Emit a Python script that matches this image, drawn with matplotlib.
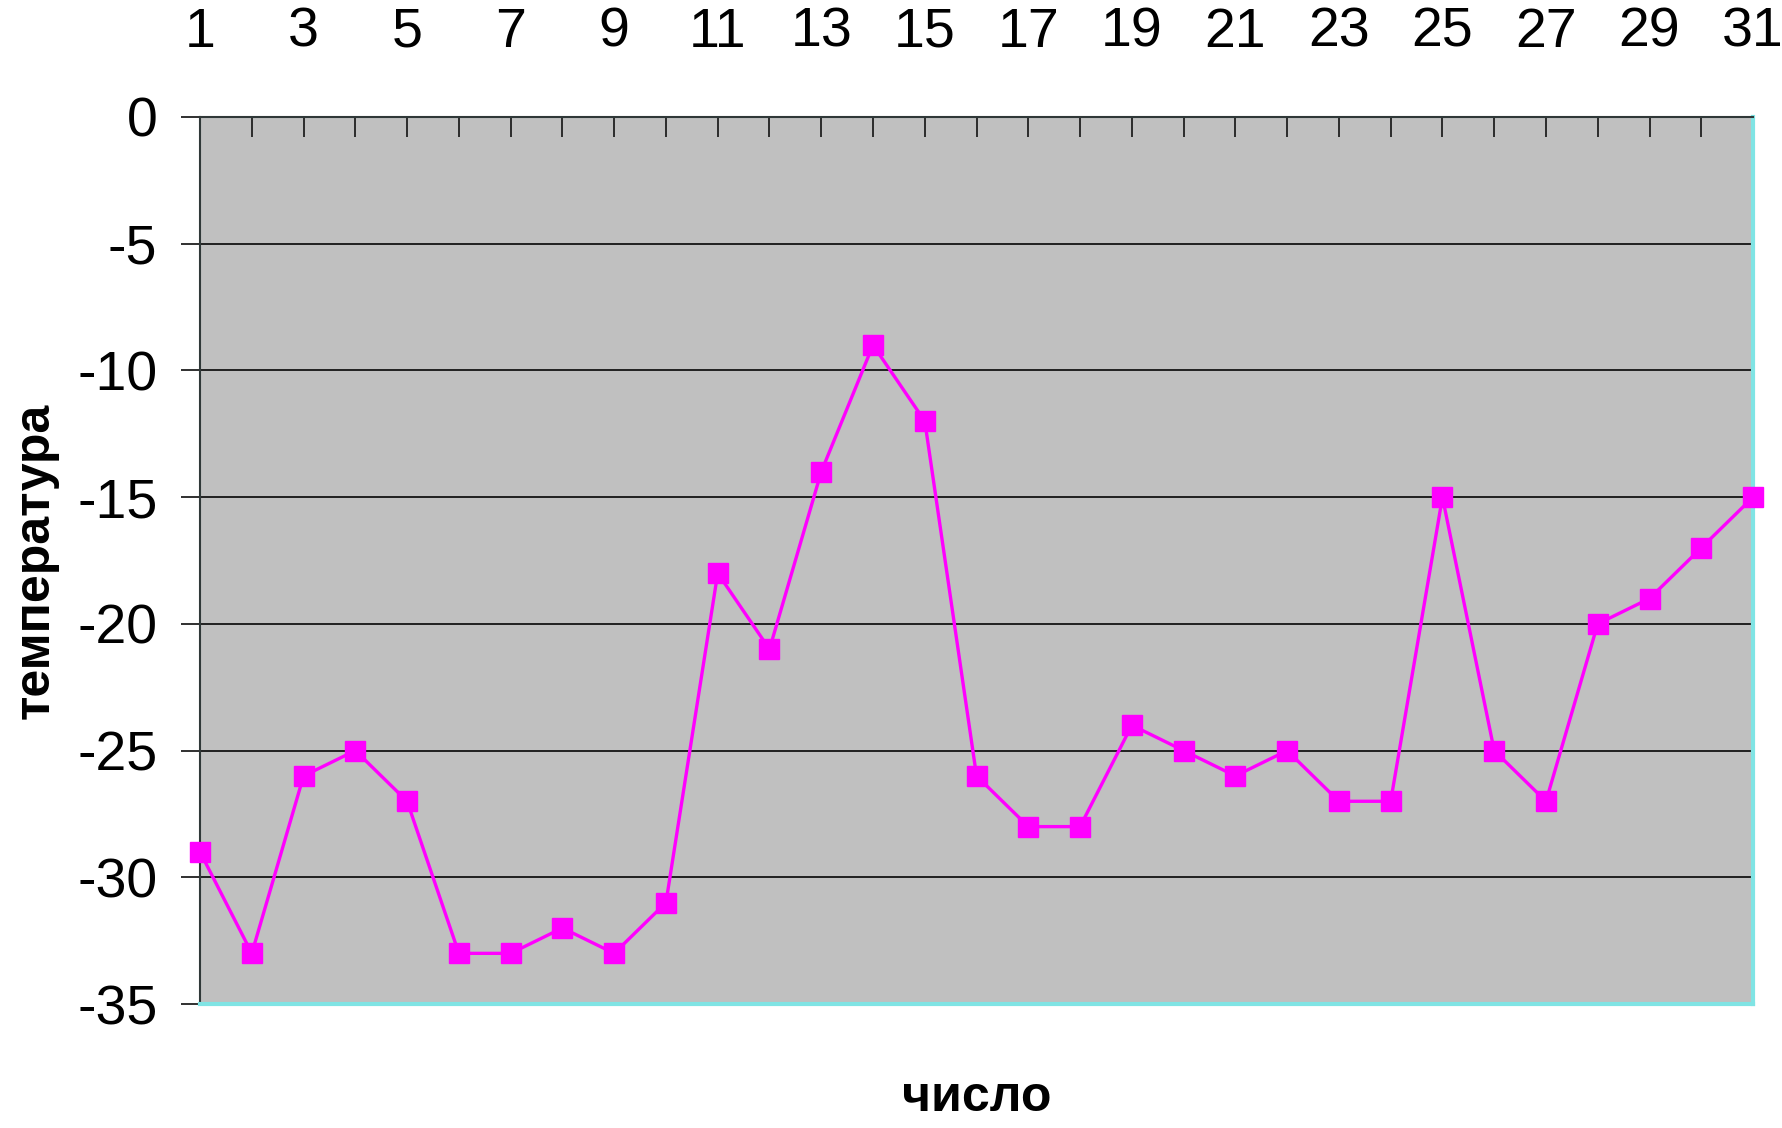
import matplotlib
matplotlib.use("Agg")
import matplotlib.pyplot as plt
from matplotlib.ticker import FixedLocator

days = list(range(1, 32))
temps = [-29, -33, -26, -25, -27, -33, -33, -32, -33, -31,
         -18, -21, -14, -9, -12, -26, -28, -28, -24, -25,
         -26, -25, -27, -27, -15, -25, -27, -20, -19, -17, -15]
y_ticks = [0, -5, -10, -15, -20, -25, -30, -35]
x_labels = [d for d in days if d % 2 == 1]

plt.rcParams['axes.unicode_minus'] = False
tick_font = ['Liberation Sans Narrow', 'Liberation Sans', 'DejaVu Sans']

fig = plt.figure(figsize=(17.83, 11.28), dpi=100)
ax = fig.add_axes([0.1122, 0.1099, 0.871, 0.7864])
ax.set_facecolor('#c0c0c0')

ax.plot(days, temps, color='#ff00ff', linewidth=2.4, marker='s',
        markersize=15, markerfacecolor='#ff00ff', markeredgecolor='#ff00ff',
        clip_on=False, zorder=5)

ax.set_xlim(1, 31)
ax.set_ylim(-35, 0)

# horizontal grid lines
for y in y_ticks[1:-1]:
    ax.axhline(y, color='#202020', linewidth=1.4, zorder=2)

# x axis on top, ticks inward
ax.xaxis.tick_top()
ax.xaxis.set_major_locator(FixedLocator(x_labels))
ax.xaxis.set_minor_locator(FixedLocator([d for d in days if d % 2 == 0]))
ax.set_xticklabels([str(d) for d in x_labels], fontfamily=tick_font, fontsize=40)
ax.tick_params(axis='x', which='both', direction='in', length=14.4, width=1.3,
               color='#202020', pad=42, top=True, bottom=False)

ax.set_yticks(y_ticks)
ax.set_yticklabels([str(v) for v in y_ticks], fontfamily=tick_font, fontsize=40)
ax.tick_params(axis='y', direction='out', length=13.7, width=1.3,
               color='#202020', pad=17)

for side in ['top', 'left']:
    ax.spines[side].set_color('#303838')
    ax.spines[side].set_linewidth(1.5)
for side in ['right', 'bottom']:
    ax.spines[side].set_color('#80e4e4')
    ax.spines[side].set_linewidth(3)

ax.set_xlabel('число', fontfamily='Liberation Sans', fontweight='bold', fontsize=36)
ax.xaxis.set_label_position('bottom')
ax.xaxis.set_label_coords(0.5, -0.106)
ax.xaxis.label.set_va('center')

ax.set_ylabel('температура', fontfamily='Liberation Sans', fontweight='bold', fontsize=36)
ax.yaxis.set_label_coords(-0.106, 0.5)
ax.yaxis.label.set_va('center')

fig.savefig('out.png', dpi=100, facecolor='white')
